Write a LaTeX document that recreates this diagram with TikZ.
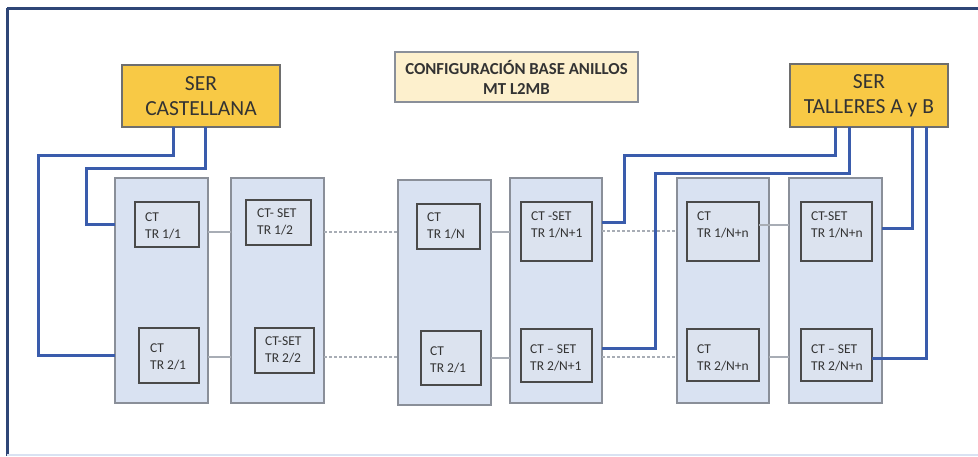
\documentclass[tikz,border=0pt]{standalone}
\usepackage{fontspec}
\setmainfont{Carlito}
\usetikzlibrary{calc}
\definecolor{frame}{HTML}{2E4677}
\definecolor{gold}{HTML}{F8C945}
\definecolor{cream}{HTML}{FDF0CD}
\definecolor{colfill}{HTML}{D9E2F2}
\definecolor{colline}{HTML}{8A8F99}
\definecolor{infill}{HTML}{DCE3EF}
\definecolor{inline}{HTML}{4A4A4A}
\definecolor{txt}{HTML}{333333}
\definecolor{bluel}{HTML}{3A5CAC}
\definecolor{grayl}{HTML}{A8ADB5}
\tikzset{
  colbox/.style={draw=colline, line width=1.5pt, fill=colfill, inner sep=0pt, outer sep=0pt},
  inbox/.style={draw=inline, line width=1.8pt, fill=infill, inner sep=0pt, outer sep=0pt},
  serbox/.style={draw=inline!80, line width=1.5pt, fill=gold, inner sep=0pt, outer sep=0pt, align=center, text=txt, font=\fontsize{21.5}{25}\selectfont},
  titlebox/.style={draw=colline, line width=1.5pt, fill=cream, inner sep=0pt, outer sep=0pt, align=center, text=txt, font=\bfseries\fontsize{16.8}{20}\selectfont},
  lbl/.style={anchor=north west, inner sep=0pt, align=left, text=txt, font=\fontsize{13.5}{17}\selectfont},
  bl/.style={draw=bluel, line width=3pt, line join=miter},
  gl/.style={draw=grayl, line width=1.2pt},
  gdash/.style={draw=grayl, line width=1.2pt, dash pattern=on 3pt off 2pt},
}
\begin{document}
\begin{tikzpicture}[x=1pt,y=-1pt]
\useasboundingbox (0,0) rectangle (978,456);
\fill[white] (0,0) rectangle (978,456);
% frame
\draw[frame, line width=3pt] (7,8) -- (978,8);
\draw[frame, line width=3pt] (7,8) -- (7,456);
\draw[colfill, line width=1.5pt] (7,455) -- (978,455);

% columns
\node[colbox, minimum width=93, minimum height=225] (c1) at (161.5,290.5) {};
\node[colbox, minimum width=93, minimum height=225] (c2) at (277.5,290.5) {};
\node[colbox, minimum width=93, minimum height=225] (c3) at (444.5,292.5) {};
\node[colbox, minimum width=92, minimum height=225] (c4) at (556,290.5) {};
\node[colbox, minimum width=92, minimum height=225] (c5) at (723,290.5) {};
\node[colbox, minimum width=93, minimum height=225] (c6) at (835.5,290.5) {};

% gray connectors between columns
\draw[gl] (c1.east |- 0,232) -- (c2.west |- 0,232);
\draw[gdash] (c2.east |- 0,232) -- (c3.west |- 0,232);
\draw[gl] (c3.east |- 0,232) -- (c4.west |- 0,232);
\draw[gdash] (c4.east |- 0,231) -- (c5.west |- 0,231);
\draw[gl] (c1.east |- 0,357) -- (c2.west |- 0,357);
\draw[gdash] (c2.east |- 0,357) -- (c3.west |- 0,357);
\draw[gl] (c3.east |- 0,358) -- (c4.west |- 0,358);
\draw[gdash] (c4.east |- 0,357) -- (c5.west |- 0,357);
\draw[gl] (c5.east |- 0,357) -- (c6.west |- 0,357);

% inner boxes top row
\node[inbox, minimum width=64, minimum height=45] (b1t) at (167,224.5) {};
\node[inbox, minimum width=65, minimum height=45] (b2t) at (278.5,222.5) {};
\node[inbox, minimum width=63, minimum height=45] (b3t) at (448.5,226.5) {};
\node[inbox, minimum width=71, minimum height=59] (b4t) at (556.5,231.5) {};
\node[inbox, minimum width=72, minimum height=59] (b5t) at (723,231.5) {};
\node[inbox, minimum width=71, minimum height=59] (b6t) at (836.5,231.5) {};
% inner boxes bottom row
\node[inbox, minimum width=60, minimum height=55] (b1b) at (169,355.5) {};
\node[inbox, minimum width=59, minimum height=45] (b2b) at (284.5,350.5) {};
\node[inbox, minimum width=60, minimum height=54] (b3b) at (451,358) {};
\node[inbox, minimum width=71, minimum height=53] (b4b) at (556.5,355.5) {};
\node[inbox, minimum width=72, minimum height=52] (b5b) at (723,355) {};
\node[inbox, minimum width=71, minimum height=52] (b6b) at (836.5,355) {};

\draw[gl] (b5t.east |- 0,225) -- (c6.west |- 0,225);

% labels
\node[lbl] (t1t) at (145,213) {CT\\TR 1/1};
\node[lbl] (t2t) at (257,209) {CT- SET\\TR 1/2};
\node[lbl] (t3t) at (427,213) {CT\\TR 1/N};
\node[lbl] (t4t) at (531,212) {CT -SET\\TR 1/N+1};
\node[lbl] (t5t) at (697,212) {CT\\TR 1/N+n};
\node[lbl] (t6t) at (811,212) {CT-SET\\TR 1/N+n};
\node[lbl] (t1b) at (150,344) {CT\\TR 2/1};
\node[lbl] (t2b) at (265,337) {CT-SET\\TR 2/2};
\node[lbl] (t3b) at (430,347) {CT\\TR 2/1};
\node[lbl] (t4b) at (530,345) {CT – SET\\TR 2/N+1};
\node[lbl] (t5b) at (697,345) {CT\\TR 2/N+n};
\node[lbl] (t6b) at (811,345) {CT – SET\\TR 2/N+n};

% SER boxes and title
\node[serbox, minimum width=158, minimum height=62] (sc) at (201,96) {SER\\CASTELLANA};
\node[serbox, minimum width=158, minimum height=63] (st) at (869,95.5) {SER\\TALLERES A y B};
\node[titlebox, minimum width=243, minimum height=50] (title) at (516.5,77) {CONFIGURACIÓN BASE ANILLOS\\MT L2MB};

% blue lines
\draw[bl] ($(sc.south)+(-28,0)$) -- ++(0,28) -- (38,155) -- (38,355.5) -- (c1.west |- b1b.west);
\draw[bl] ($(sc.south)+(4,0)$) -- ++(0,41) -- (86,168) -- (86,224.5) -- (c1.west |- b1t.west);
\draw[bl] ($(st.south)+(-34,0)$) -- ++(0,28) -- (624,155) -- (624,222) -- (c4.east |- 0,222);
\draw[bl] ($(st.south)+(-20,0)$) -- ++(0,46) -- (655,173) -- (655,348) -- (c4.east |- 0,348);
\draw[bl] ($(st.south)+(43,0)$) -- ++(0,101) -- (c6.east |- 0,228);
\draw[bl] ($(st.south)+(57,0)$) -- ++(0,231) -- (b6b.east |- 0,358);
\end{tikzpicture}
\end{document}
